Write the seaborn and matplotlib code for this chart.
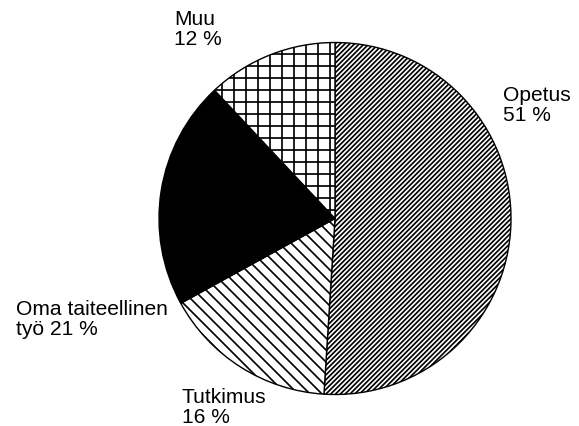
import matplotlib
matplotlib.use('Agg')
import matplotlib.pyplot as plt
import seaborn as sns

# data
categories = ['Opetus', 'Tutkimus', 'Oma taiteellinen\ntyö', 'Muu']
shares = [51, 16, 21, 12]

# styles
hatches = ['/////', '\\\\', '', '+']
facecolors = ['white', 'white', 'black', 'white']
label_pos = [(503, 86), (182, 388), (16, 300), (174, 10)]  # top-left, pixels

sns.set_theme(style='white')
plt.rcParams['font.family'] = ['Liberation Sans', 'DejaVu Sans']
plt.rcParams['hatch.linewidth'] = 1.7
plt.rcParams['hatch.color'] = 'black'

DPI = 72
W, H = 579, 426
fig = plt.figure(figsize=(W / DPI, H / DPI), dpi=DPI)
fig.patch.set_facecolor('white')

cx, cy, r = 335, 218.5, 176
pad = 1.03
ra = r * pad
ax = fig.add_axes([(cx - ra) / W, 1 - (cy + ra) / H, 2 * ra / W, 2 * ra / H])
wedges, _ = ax.pie(shares, startangle=90, counterclock=False, colors=facecolors,
                   wedgeprops=dict(edgecolor='black', linewidth=1.4))
for w, h in zip(wedges, hatches):
    w.set_hatch(h)
ax.set_xlim(-pad, pad)
ax.set_ylim(-pad, pad)
ax.set_aspect('equal')
ax.axis('off')

for c, v, (px, py) in zip(categories, shares, label_pos):
    sep = ' ' if '\n' in c else '\n'
    fig.text(px / W, 1 - py / H, f'{c}{sep}{v} %', ha='left', va='top',
             fontsize=21, linespacing=1.08, color='black')

fig.savefig('out.png', dpi=DPI, facecolor='white')
